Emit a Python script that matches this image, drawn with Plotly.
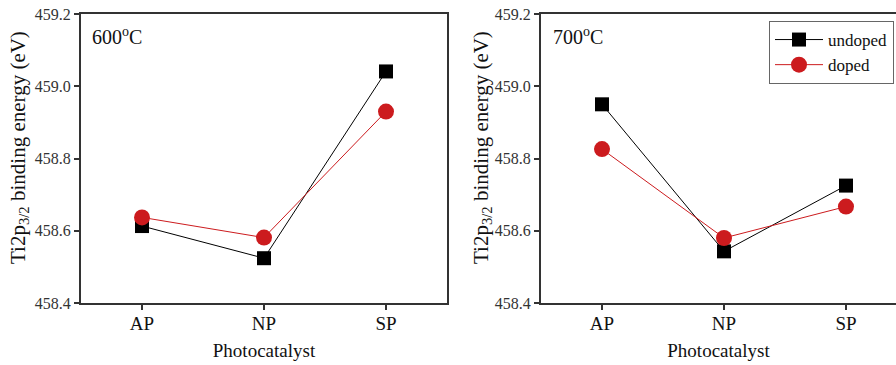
import plotly.graph_objects as go

categories = ["AP", "NP", "SP"]
undoped_600 = [458.613, 458.524, 459.041]
doped_600 = [458.637, 458.581, 458.930]
undoped_700 = [458.950, 458.543, 458.725]
doped_700 = [458.826, 458.580, 458.667]
y_ticks = [458.4, 458.6, 458.8, 459.0, 459.2]
panel_labels = ["600<sup>o</sup>C", "700<sup>o</sup>C"]
y_title = "Ti2p<sub>3/2</sub> binding energy (eV)"
x_title = "Photocatalyst"

FONT = "Liberation Serif"
BLACK = "#000000"
RED = "#cc1b1e"
AXC = "#333333"

W, H = 896, 365


def px(x):
    return x / W


def py(y):
    return 1 - y / H


fig = go.Figure()
xpos = list(range(len(categories)))


def add_series(y, name, color, symbol, size, xa, ya, show):
    fig.add_trace(go.Scatter(
        x=xpos, y=y, mode="lines+markers", name=name,
        line=dict(color=color, width=1),
        marker=dict(symbol=symbol, size=size, color=color, line=dict(width=0)),
        xaxis=xa, yaxis=ya, showlegend=show))


add_series(undoped_600, "undoped", BLACK, "square", 14, "x", "y", False)
add_series(doped_600, "doped", RED, "circle", 16, "x", "y", False)
add_series(undoped_700, "undoped", BLACK, "square", 14, "x2", "y2", True)
add_series(doped_700, "doped", RED, "circle", 16, "x2", "y2", True)

ydom = [py(303), py(14)]

xcommon = dict(
    tickmode="array", tickvals=xpos, ticktext=categories,
    showline=True, linecolor=AXC, linewidth=2, mirror=True,
    ticks="outside", ticklen=5, tickwidth=1.5, tickcolor=AXC,
    showgrid=False, zeroline=False,
    tickfont=dict(family=FONT, size=19, color="#111111"),
    ticklabelstandoff=-3,
    title=dict(text=x_title, font=dict(family=FONT, size=19, color="#111111"), standoff=11),
)
ycommon = dict(
    range=[458.4, 459.2], tickmode="array", tickvals=y_ticks,
    ticktext=[f"{v:.1f}" for v in y_ticks],
    showline=True, linecolor=AXC, linewidth=2, mirror=True,
    ticks="outside", ticklen=5, tickwidth=1.5, tickcolor=AXC,
    showgrid=False, zeroline=False, ticklabeloverflow="allow",
    tickfont=dict(family=FONT, size=16, color="#333333"),
)

annotations = []
for xl, lbl in [(90, panel_labels[0]), (551, panel_labels[1])]:
    annotations.append(dict(text=lbl, xref="paper", yref="paper", x=px(xl), y=py(36),
                            xanchor="left", yanchor="middle", showarrow=False,
                            font=dict(family=FONT, size=20, color="#111111")))
for xc in [19, 482]:
    annotations.append(dict(text=y_title, xref="paper", yref="paper", x=px(xc), y=py(148),
                            xanchor="center", yanchor="middle", showarrow=False, textangle=-90,
                            font=dict(family=FONT, size=21, color="#111111")))

fig.update_layout(
    width=W, height=H,
    margin=dict(l=0, r=0, t=0, b=0, autoexpand=False),
    paper_bgcolor="white", plot_bgcolor="white",
    xaxis=dict(domain=[px(81), px(447)], range=[-0.5, 2.5], anchor="y", **xcommon),
    yaxis=dict(domain=ydom, anchor="x", **ycommon),
    xaxis2=dict(domain=[px(541), 1.0], range=[-0.5, 2.41], anchor="y2", **xcommon),
    yaxis2=dict(domain=ydom, anchor="x2", **ycommon),
    legend=dict(x=px(769), y=py(21), xanchor="left", yanchor="top",
                bgcolor="white", bordercolor="#666666", borderwidth=1,
                font=dict(family=FONT, size=17, color="#111111"),
                tracegroupgap=0, itemwidth=48),
    annotations=annotations,
)

fig.write_html("out.html", config={"displayModeBar": False},
               post_script="document.body.style.margin='0';")
